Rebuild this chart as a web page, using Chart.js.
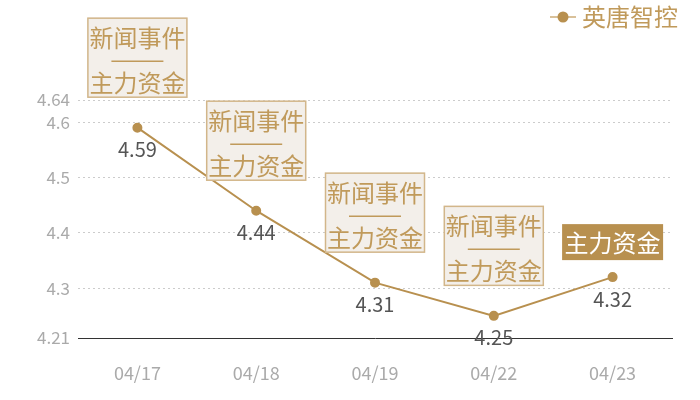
<!DOCTYPE html>
<html>
<head>
<meta charset="utf-8">
<script src="https://cdn.jsdelivr.net/npm/chart.js@4.4.0/dist/chart.umd.min.js"></script>
<style>
  html, body { margin: 0; padding: 0; background: #fff; }
  #wrap { width: 700px; height: 400px; }
</style>
</head>
<body>
<div id="wrap"><canvas id="lineChart"></canvas></div>
<script>
const dates = ['04/17', '04/18', '04/19', '04/22', '04/23'];
const prices = [4.59, 4.44, 4.31, 4.25, 4.32];
const yTicks = [4.21, 4.3, 4.4, 4.5, 4.6, 4.64];
const seriesName = '英唐智控';
// tags above each point; a single tag is drawn filled
const tags = [
    ['新闻事件', '主力资金'],
    ['新闻事件', '主力资金'],
    ['新闻事件', '主力资金'],
    ['新闻事件', '主力资金'],
    ['主力资金']
];

const gold = '#b8904f';
const tagText = '#c09a5b';
const cjk = '"Noto Sans CJK SC", "Noto Sans", sans-serif';

// legend marker: short line with a dot
const marker = document.createElement('canvas');
marker.width = 26; marker.height = 12;
(function () {
    const c = marker.getContext('2d');
    c.strokeStyle = '#d9c19a';
    c.lineWidth = 2;
    c.beginPath(); c.moveTo(0, 6); c.lineTo(26, 6); c.stroke();
    c.fillStyle = gold;
    c.beginPath(); c.arc(13, 6, 5.5, 0, Math.PI * 2); c.fill();
})();

const tagPlugin = {
    id: 'tagPlugin',
    beforeInit(chart) {
        const fit = chart.legend.fit;
        chart.legend.fit = function () {
            fit.call(this);
            this.height = 100;
        };
    },
    afterDatasetsDraw(chart) {
        const ctx = chart.ctx;
        const meta = chart.getDatasetMeta(0);
        ctx.save();
        ctx.textAlign = 'center';
        ctx.textBaseline = 'middle';
        meta.data.forEach((pt, i) => {
            // value under the point
            ctx.font = '20px ' + cjk;
            ctx.fillStyle = '#555';
            ctx.fillText(prices[i].toFixed(2), pt.x, pt.y + 22);

            const t = tags[i];
            ctx.font = '24px ' + cjk;
            if (t.length > 1) {
                const w = 100, h = 80;
                const left = pt.x - w / 2, top = pt.y - 30 - h;
                ctx.fillStyle = '#f3efea';
                ctx.fillRect(left, top, w, h);
                ctx.strokeStyle = '#d2b68a';
                ctx.lineWidth = 1.5;
                ctx.strokeRect(left + 0.5, top + 0.5, w - 1, h - 1);
                ctx.fillStyle = tagText;
                ctx.fillText(t[0], pt.x, top + 20);
                ctx.strokeStyle = tagText;
                ctx.lineWidth = 1.5;
                ctx.beginPath();
                ctx.moveTo(pt.x - 26, top + 43.5);
                ctx.lineTo(pt.x + 26, top + 43.5);
                ctx.stroke();
                ctx.fillText(t[1], pt.x, top + 65);
            } else {
                const w = 101, h = 36;
                const left = pt.x - w / 2, top = pt.y - 17 - h;
                ctx.fillStyle = gold;
                ctx.fillRect(left, top, w, h);
                ctx.fillStyle = '#fff';
                ctx.fillText(t[0], pt.x, top + h / 2 + 1);
            }
        });
        ctx.restore();
    }
};

new Chart(document.getElementById('lineChart'), {
    type: 'line',
    data: {
        labels: dates,
        datasets: [{
            label: seriesName,
            data: prices,
            borderColor: gold,
            backgroundColor: gold,
            borderWidth: 2,
            pointRadius: 4,
            pointHoverRadius: 4,
            tension: 0
        }]
    },
    options: {
        responsive: true,
        maintainAspectRatio: false,
        animation: false,
        layout: { padding: { left: 0, right: 17, top: 0, bottom: 0 } },
        plugins: {
            tooltip: { enabled: false },
            legend: {
                position: 'top',
                align: 'end',
                labels: {
                    usePointStyle: true,
                    pointStyle: marker,
                    pointStyleWidth: 14,
                    color: tagText,
                    font: { size: 24, family: cjk },
                    padding: 5
                }
            }
        },
        scales: {
            x: {
                offset: true,
                grid: { display: false },
                border: { display: true, color: '#333', width: 1 },
                ticks: {
                    color: '#aaa',
                    font: { size: 18, family: cjk },
                    padding: 16
                },
                afterFit(scale) { scale.height = 62; }
            },
            y: {
                min: 4.21,
                max: 4.64,
                afterBuildTicks(scale) {
                    scale.ticks = yTicks.map(v => ({ value: v }));
                },
                grid: {
                    color: '#ccc',
                    drawTicks: false
                },
                border: { display: false, dash: [2, 3] },
                ticks: {
                    color: '#aaa',
                    font: { size: 17, family: cjk },
                    padding: 8,
                    callback: v => String(+v.toFixed(2))
                },
                afterFit(scale) { scale.width = 78; }
            },
            // empty spacer on the right so the legend sits further right than the plot
            spacer: {
                position: 'right',
                display: true,
                grid: { display: false },
                border: { display: false },
                ticks: { display: false },
                afterFit(scale) { scale.width = 11; }
            }
        }
    },
    plugins: [tagPlugin]
});
</script>
</body>
</html>
